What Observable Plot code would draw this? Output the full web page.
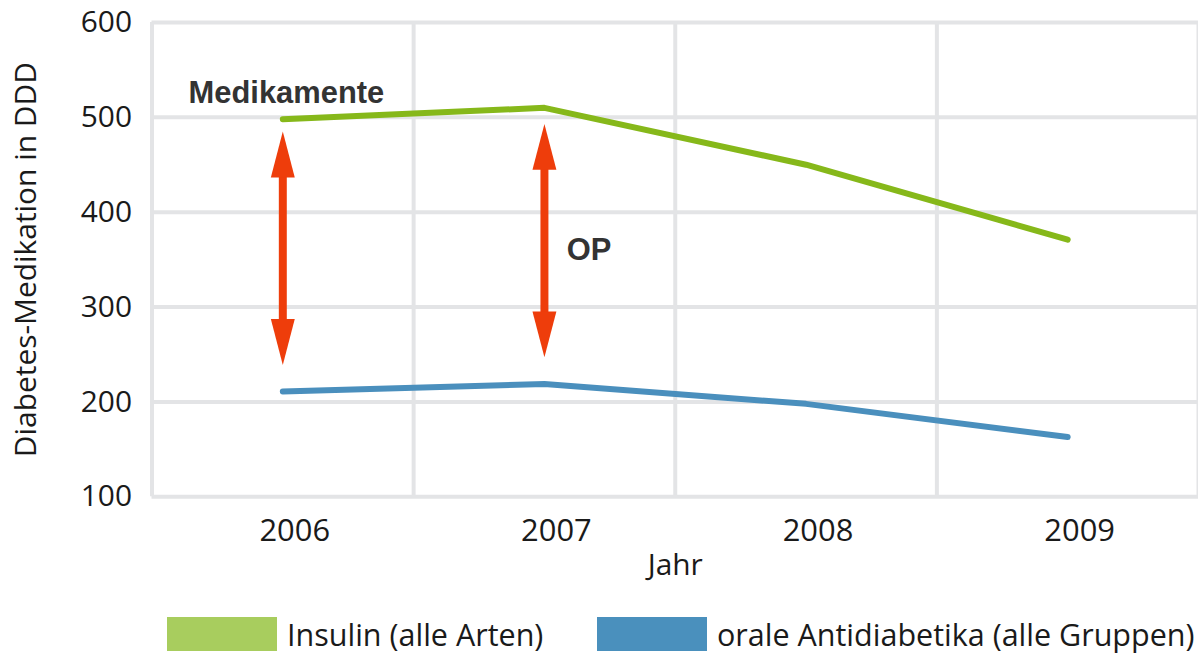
<!DOCTYPE html>
<html>
<head>
<meta charset="utf-8">
<script src="https://cdn.jsdelivr.net/npm/d3@7"></script>
<script src="https://cdn.jsdelivr.net/npm/@observablehq/plot@0.6"></script>
<style>
  html, body { margin: 0; padding: 0; background: #fff; overflow: hidden; width: 1198px; height: 657px; }
  #chart { position: relative; width: 1198px; height: 657px; }
  .leg { position: absolute; top: 617px; height: 34px; display: flex; align-items: center; font-family: "Open Sans", sans-serif; font-size: 30.5px; line-height: 34px; color: #1a1a1a; white-space: nowrap; }
  .sw { width: 110px; height: 34px; margin-right: 10px; }
</style>
</head>
<body>
<div id="chart"></div>
<script>
// Data
const years = [2006, 2007, 2008, 2009];
const insulin = [498, 510, 450, 371];
const oral = [211, 219, 198, 163];
const yTicks = [100, 200, 300, 400, 500, 600];

// Annotations
const arrowYears = [2006, 2007];
const arrowTop = [485, 493];
const arrowBottom = [239, 247];
const annoLabels = ["Medikamente", "OP"];
const annoYears = [2005.64, 2007.085];
const annoValues = [525, 360];

const seriesNames = ["Insulin (alle Arten)", "orale Antidiabetika (alle Gruppen)"];
const lineColors = ["#86b81a", "#4a8fbd"];
const legendColors = ["#a8cd5e", "#4a90bd"];
const arrowColor = "#ee3d0b";
const gridColor = "#e3e4e6";

const insulinData = years.map((y, i) => ({year: y, value: insulin[i]}));
const oralData = years.map((y, i) => ({year: y, value: oral[i]}));
const arrows = arrowYears.map((y, i) => ({year: y, top: arrowTop[i], bottom: arrowBottom[i]}));
const annos = annoLabels.map((t, i) => ({label: t, year: annoYears[i], value: annoValues[i]}));
const bounds = years.map(y => y - 0.5).concat([years[years.length - 1] + 0.5]);

const headW = 12, headL = 46;
const upHead = { draw(ctx) { ctx.moveTo(0, 0); ctx.lineTo(headW, headL); ctx.lineTo(-headW, headL); ctx.closePath(); } };
const downHead = { draw(ctx) { ctx.moveTo(0, 0); ctx.lineTo(headW, -headL); ctx.lineTo(-headW, -headL); ctx.closePath(); } };

const plot = Plot.plot({
  width: 1202,
  height: 600,
  marginLeft: 152,
  marginRight: 0,
  marginTop: 22,
  marginBottom: 102,
  style: {fontFamily: "Open Sans, sans-serif", fontSize: "30px", color: "#1a1a1a", background: "transparent", overflow: "visible"},
  x: {type: "linear", domain: [bounds[0], bounds[bounds.length - 1]]},
  y: {domain: [100, 600]},
  marks: [
    Plot.ruleY(yTicks, {stroke: gridColor, strokeWidth: 4}),
    Plot.ruleX(bounds, {stroke: gridColor, strokeWidth: 4}),
    Plot.axisX({ticks: years, tickFormat: "d", tickSize: 0, tickPadding: 22, dx: 12, fontSize: 31, label: null}),
    Plot.axisX({ticks: [], tickSize: 0, label: "Jahr", labelAnchor: "center", labelOffset: 78, labelArrow: "none", fontSize: 30, dx: 6}),
    Plot.axisY({ticks: yTicks, tickSize: 0, tickPadding: 20, fontSize: 30, label: "Diabetes-Medikation in DDD", labelAnchor: "center", labelOffset: 138, labelArrow: "none"}),
    Plot.line(insulinData, {x: "year", y: "value", stroke: lineColors[0], strokeWidth: 6, strokeLinecap: "round", strokeLinejoin: "round"}),
    Plot.line(oralData, {x: "year", y: "value", stroke: lineColors[1], strokeWidth: 6, strokeLinecap: "round", strokeLinejoin: "round"}),
    Plot.ruleX(arrows, {x: "year", y1: "top", y2: "bottom", stroke: arrowColor, strokeWidth: 8, insetTop: 30, insetBottom: 30}),
    Plot.dot(arrows, {x: "year", y: "top", symbol: upHead, fill: arrowColor, stroke: "none"}),
    Plot.dot(arrows, {x: "year", y: "bottom", symbol: downHead, fill: arrowColor, stroke: "none"}),
    Plot.text(annos, {x: "year", y: "value", text: "label", textAnchor: "start", fontFamily: "Liberation Sans, Arial, sans-serif", fontWeight: "bold", fontSize: 31, fill: "#333"})
  ]
});

const chart = document.getElementById("chart");
chart.appendChild(plot);

const legLefts = [167, 597];
seriesNames.forEach((name, i) => {
  const item = document.createElement("div");
  item.className = "leg";
  item.style.left = legLefts[i] + "px";
  const sw = document.createElement("div");
  sw.className = "sw";
  sw.style.background = legendColors[i];
  const t = document.createElement("span");
  t.textContent = name;
  item.appendChild(sw);
  item.appendChild(t);
  chart.appendChild(item);
});
</script>
</body>
</html>
